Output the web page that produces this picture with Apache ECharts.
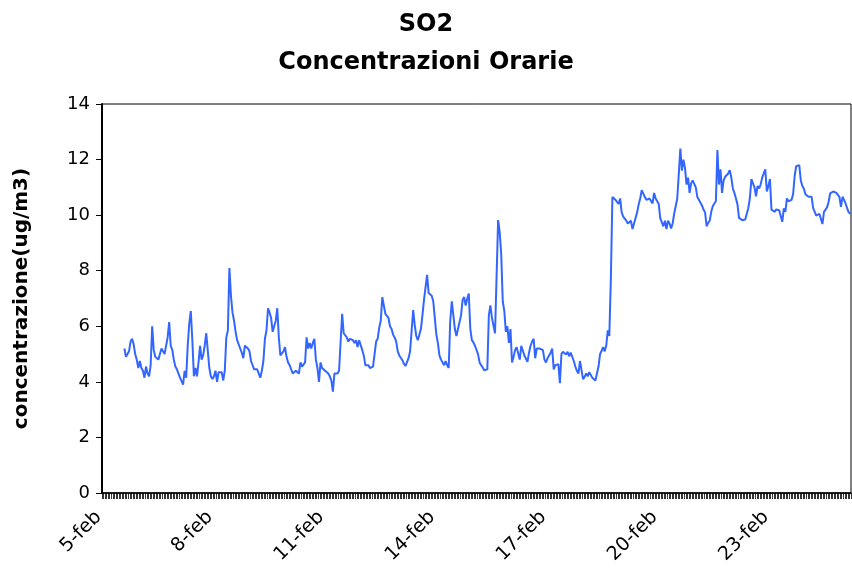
<!DOCTYPE html>
<html>
<head>
<meta charset="utf-8">
<script src="https://cdn.jsdelivr.net/npm/echarts@6/dist/echarts.min.js"></script>
<style>html,body{margin:0;padding:0;background:#fff}#c{width:852px;height:576px}</style>
</head>
<body>
<div id="c"></div>
<script>
var titleText = 'SO2\nConcentrazioni Orarie';
var yAxisName = 'concentrazione(ug/m3)';
var days = ['5-feb','6-feb','7-feb','8-feb','9-feb','10-feb','11-feb','12-feb','13-feb','14-feb','15-feb','16-feb','17-feb','18-feb','19-feb','20-feb','21-feb','22-feb','23-feb','24-feb','25-feb'];
var hoursShown = 485;
var yTicks = [0, 2, 4, 6, 8, 10, 12, 14];
// hourly SO2 values (ug/m3), first 14 hours missing
var so2 = [
null,null,null,null,null,null,null,null,null,null,
null,null,null,null,5.2,4.9,4.85,5.1,5.45,5.55,
5.35,5.0,4.8,4.5,4.75,4.5,4.4,4.15,4.55,4.3,
4.2,4.6,6.0,5.15,4.9,4.85,4.8,5.0,5.2,5.1,
5.0,5.05,5.6,6.15,5.3,5.15,4.8,4.55,4.45,4.5,
4.15,4.1,3.9,4.4,4.15,5.3,6.1,6.55,5.5,4.2,
4.5,4.2,4.7,5.3,4.8,4.95,5.3,5.75,5.8,4.5,
4.2,4.1,4.2,4.4,4.0,4.35,4.35,4.35,4.05,4.4,
5.6,5.85,8.1,7.1,6.5,6.2,5.8,5.5,5.45,5.2,
5.05,4.85,5.3,5.25,5.2,5.1,4.75,4.8,4.45,4.45,
4.45,4.5,4.15,4.4,4.75,5.55,5.85,6.65,6.5,6.3,
5.8,5.75,6.2,6.65,5.6,4.95,4.9,5.1,5.25,4.9,
4.7,4.6,4.6,4.3,4.35,4.4,4.35,4.3,4.7,4.55,
4.6,4.7,5.6,5.2,5.4,5.2,5.4,5.55,4.8,4.5,
4.0,4.7,4.5,4.45,4.4,4.35,4.3,4.2,4.05,3.65,
4.3,4.25,4.3,4.4,4.45,6.45,5.75,5.8,5.6,5.45,
5.55,5.5,5.5,5.4,5.5,5.25,5.5,5.45,5.15,4.95,
4.6,4.57,4.6,4.5,4.45,4.55,5.0,5.45,5.55,5.95,
6.2,7.05,7.05,6.45,6.45,6.3,6.0,5.9,5.7,5.6,
5.45,5.1,4.95,4.9,4.78,4.65,4.57,4.6,4.85,5.1,
5.15,6.58,6.05,5.65,5.5,5.55,5.9,6.4,6.95,7.4,
7.85,7.2,7.2,7.1,6.9,6.3,5.7,5.4,4.95,4.8,
4.85,4.6,4.75,4.6,4.5,6.2,6.9,6.4,5.9,5.65,
5.9,6.15,6.4,6.95,7.05,6.75,7.0,7.18,5.9,5.5,
5.42,5.3,5.36,5.0,4.7,4.6,4.52,4.42,4.42,4.45,
6.4,6.75,6.3,6.25,5.75,5.8,9.82,9.4,8.6,6.9,
6.55,5.8,6.0,5.4,5.9,4.7,4.9,5.15,5.25,5.25,
4.8,5.3,5.35,4.95,5.0,4.72,5.05,5.3,5.45,5.55,
4.85,5.2,5.2,5.2,5.17,5.14,4.8,4.7,4.85,4.95,
5.05,5.2,4.45,4.6,4.62,4.64,3.95,5.0,5.08,5.12,
4.98,5.08,4.92,5.05,5.05,4.75,4.55,4.4,4.3,4.75,
4.72,4.1,4.18,4.3,4.2,4.35,4.4,4.15,4.13,4.05,
4.0,4.55,5.0,5.12,5.25,5.1,5.3,5.85,5.65,7.7,
10.65,10.6,10.55,10.52,10.4,10.6,10.1,9.95,10.0,9.8,
9.7,9.65,9.8,9.5,9.7,9.9,10.1,10.38,10.6,10.9,
10.85,10.65,10.55,10.55,10.6,10.55,10.42,10.8,10.6,10.6,
10.4,9.88,9.9,9.6,9.8,9.5,9.8,9.7,9.52,9.7,
10.05,10.08,10.6,11.5,12.4,11.6,12.0,11.7,11.1,11.35,
10.8,11.15,11.25,11.3,11.0,10.65,10.55,10.48,10.35,10.2,
10.1,9.6,9.72,9.8,10.12,10.32,10.42,10.5,12.34,11.1,
11.65,10.8,11.25,11.38,11.4,11.5,11.62,11.35,10.96,10.8,
10.6,10.38,9.9,9.85,9.82,9.88,9.84,10.05,10.25,10.6,
11.3,11.25,11.0,10.68,11.05,10.96,11.1,11.35,11.5,11.65,
10.85,11.05,11.3,10.2,10.15,10.12,10.2,10.2,10.18,10.2,
9.76,10.24,10.12,10.6,10.5,10.48,10.55,10.75,11.4,11.76,
11.72,11.8,11.25,11.05,10.95,10.75,10.68,10.66,10.68,10.66,
10.25,10.12,9.98,10.0,10.05,10.12,9.68,10.12,10.08,10.28,
10.48,10.78,10.78,10.85,10.9,10.8,10.84,10.66,10.3,10.66,
10.55,10.42,10.25,10.1,10.05
];
var labelEvery = 72;

var categories = [];
for (var d = 0; d < days.length; d++) {
  for (var h = 0; h < 24; h++) {
    if (categories.length < hoursShown) categories.push(days[d] + ' ' + (h < 10 ? '0' + h : h) + ':00');
  }
}

var chart = echarts.init(document.getElementById('c'), null, {renderer: 'canvas'});
chart.setOption({
  animation: false,
  backgroundColor: '#ffffff',
  title: {
    text: titleText,
    left: 'center',
    top: 1,
    textStyle: {fontFamily: 'DejaVu Sans', fontWeight: 'bold', fontSize: 24, lineHeight: 38, color: '#000'}
  },
  grid: {left: 102, right: 1, top: 104, bottom: 83, show: true, borderColor: '#000', borderWidth: 1, backgroundColor: 'transparent'},
  xAxis: {
    type: 'category',
    data: categories,
    boundaryGap: true,
    axisLine: {lineStyle: {color: '#000', width: 1.5}},
    axisTick: {show: true, interval: 0, length: 6, lineStyle: {color: '#000', width: 0.8}},
    axisLabel: {
      interval: function (idx) { return idx % labelEvery === 0; },
      rotate: 45,
      margin: 17,
      padding: [0, 6, 0, 0],
      fontFamily: 'DejaVu Sans',
      fontSize: 19,
      color: '#000',
      formatter: function (v) { return v.split(' ')[0]; }
    },
    splitLine: {show: false}
  },
  yAxis: {
    type: 'value',
    min: yTicks[0],
    max: yTicks[yTicks.length - 1],
    interval: 2,
    name: yAxisName,
    nameLocation: 'middle',
    nameGap: 70,
    nameRotate: 90,
    nameTextStyle: {fontFamily: 'DejaVu Sans', fontWeight: 'bold', fontSize: 20, color: '#000'},
    axisLine: {show: true, lineStyle: {color: '#000', width: 2}},
    axisTick: {show: true, length: 6, lineStyle: {color: '#000', width: 1}},
    axisLabel: {fontFamily: 'DejaVu Sans', fontSize: 18, color: '#000', margin: 12},
    splitLine: {show: false}
  },
  series: [{
    type: 'line',
    data: so2,
    showSymbol: false,
    connectNulls: false,
    lineStyle: {color: '#3366ff', width: 2},
    itemStyle: {color: '#3366ff'}
  }]
});
</script>
</body>
</html>
